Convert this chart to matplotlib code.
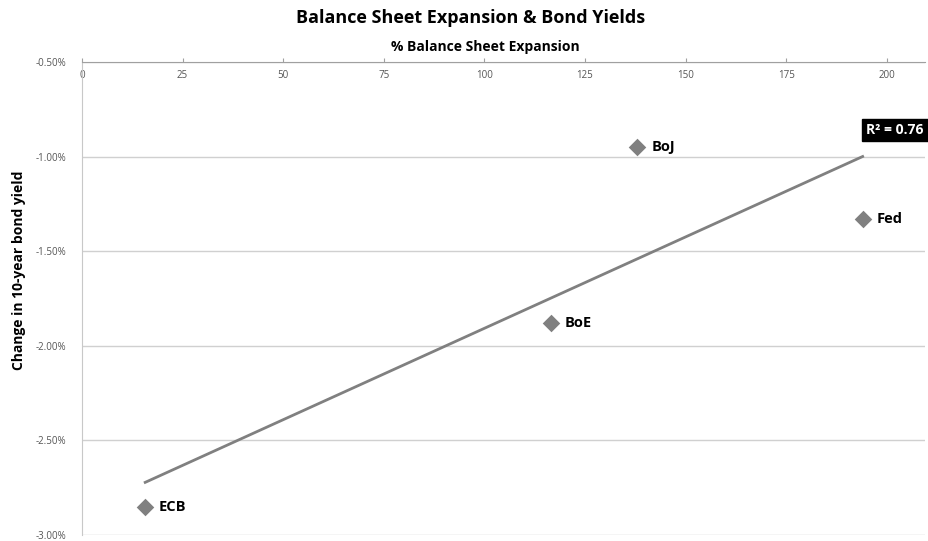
import numpy as np
import matplotlib
matplotlib.use('Agg')
import matplotlib.pyplot as plt
from matplotlib.ticker import FuncFormatter

plt.rcParams['font.family'] = ['Open Sans', 'DejaVu Sans']

# data
banks = ['ECB', 'BoE', 'BoJ', 'Fed']
expansion = [15.7, 116.5, 138.0, 194.0]      # % balance sheet expansion
yield_change = [-2.85, -1.88, -0.95, -1.33]  # change in 10-year yield, %
x_ticks = [0, 25, 50, 75, 100, 125, 150, 175, 200]
y_ticks = [-0.5, -1.0, -1.5, -2.0, -2.5, -3.0]

fig = plt.figure(figsize=(9.29, 5.41), dpi=100)
ax = fig.add_axes([0.0883, 0.0111, 0.9074, 0.8743])

# grid lines and axes
for s in ['right', 'bottom']:
    ax.spines[s].set_visible(False)
ax.spines['top'].set_color('#a0a0a0')
ax.spines['left'].set_color('#c8c8c8')
ax.set_yticks(y_ticks)
ax.yaxis.grid(True, color='#d0d0d0', lw=1)
ax.set_axisbelow(True)
ax.set_xlim(0, 209.5)
ax.set_ylim(-3.0, -0.5)
ax.set_xticks(x_ticks)

ax.tick_params(axis='x', top=True, labeltop=True, bottom=False, labelbottom=False,
               direction='out', length=3, color='#a0a0a0', pad=-17,
               labelsize=7, labelcolor='#555555')
ax.tick_params(axis='y', left=False, labelsize=7, labelcolor='#555555', pad=8)
ax.yaxis.set_major_formatter(FuncFormatter(lambda v, p: '%.2f%%' % v))

# scatter points
ax.scatter(expansion, yield_change, marker='D', s=80, color='#808080',
           zorder=3, linewidths=0)
for name, x, y in zip(banks, expansion, yield_change):
    ax.annotate(name, (x, y), xytext=(10, 0), textcoords='offset points',
                fontsize=10.5, fontweight='bold', va='center', ha='left')

# linear trendline
slope, icpt = np.polyfit(expansion, yield_change, 1)
xs = np.array([min(expansion), max(expansion)])
ax.plot(xs, slope * xs + icpt, color='#808080', lw=2, zorder=2)
r2 = np.corrcoef(expansion, yield_change)[0, 1] ** 2
ax.text(max(expansion) + 0.8, slope * max(expansion) + icpt + 0.14,
        'R\u00b2 = %.2f' % r2, fontsize=10, fontweight='bold', color='white',
        va='center', ha='left',
        bbox=dict(boxstyle='square,pad=0.3', fc='black', ec='black'))

fig.text(0.506, 0.967, 'Balance Sheet Expansion & Bond Yields', ha='center',
         va='center', fontsize=13, fontweight='bold')
fig.text(0.522, 0.913, '% Balance Sheet Expansion', ha='center', va='center',
         fontsize=10, fontweight='bold')
fig.text(0.02, 0.5, 'Change in 10-year bond yield', ha='center', va='center',
         rotation=90, fontsize=10, fontweight='bold')

fig.savefig('out.png', dpi=100)
